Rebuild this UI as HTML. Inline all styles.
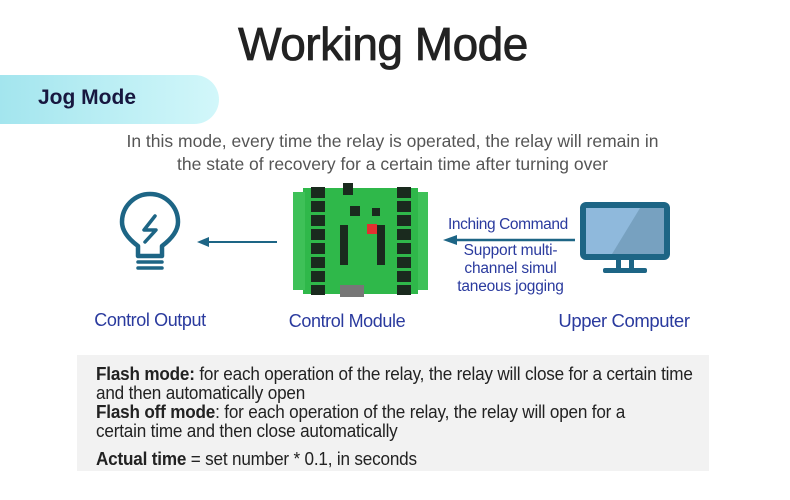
<!DOCTYPE html>
<html><head><meta charset="utf-8"><style>
body{margin:0;width:790px;height:500px;background:#fff;position:relative;overflow:hidden;font-family:"Liberation Sans",sans-serif}
.a{position:absolute;white-space:nowrap}
.lbl{color:#2a3a9e;font-size:18px;transform:translateX(-50%);letter-spacing:-0.4px}
.nar{font-size:18.5px;color:#222;letter-spacing:-0.2px;transform-origin:0 0;transform:scaleX(0.925)}
</style></head><body>
<div class="a" style="left:0;width:766px;top:17px;text-align:center;font-size:46px;color:#222;letter-spacing:-0.5px;-webkit-text-stroke:0.8px #222">Working Mode</div>
<div class="a" style="left:0;top:75px;width:219px;height:49px;border-radius:0 25px 25px 0;background:linear-gradient(90deg,#a3e5ee,#d2f7fa)"></div>
<div class="a" style="left:38px;top:86px;font-size:21px;font-weight:bold;color:#17173f">Jog Mode</div>
<div class="a" style="left:0;width:785px;top:130px;text-align:center;font-size:17.5px;line-height:23px;color:#555">In this mode, every time the relay is operated, the relay will remain in<br>the state of recovery for a certain time after turning over</div>
<svg class="a" style="left:0;top:0" width="790" height="340">
 <g stroke="#1d6585" stroke-width="5" fill="none" stroke-linecap="round" stroke-linejoin="round">
  <path d="M138 256 L138 246 Q122 234 122 222 A28 28 0 1 1 178 222 Q178 234 162 246 L162 256 Z" stroke-width="4.5"/>
  <path d="M155 216 L144 230 L156 230 L145 242" stroke-width="3.5"/>
  <path d="M138 262 H162 M138 268 H162" stroke-width="3.5"/>
 </g>
 <line x1="277" y1="242" x2="205" y2="242" stroke="#1d6585" stroke-width="2"/>
 <path d="M197 242 L209 237 L209 247Z" fill="#1d6585"/>
 <line x1="575" y1="240" x2="450" y2="240" stroke="#1d6585" stroke-width="2.5"/>
 <path d="M443 240 L457 235 L457 245Z" fill="#1d6585"/>
 <rect x="580" y="202" width="90" height="58" rx="6" fill="#1d6585"/>
 <rect x="586" y="208" width="78" height="46" fill="#8fb9dc"/>
 <path d="M640 208 L664 208 L664 254 L612 254Z" fill="#77a1c0"/>
 <rect x="616" y="260" width="5" height="10" fill="#1d6585"/><rect x="629" y="260" width="5" height="10" fill="#1d6585"/>
 <rect x="603" y="268" width="44" height="5" rx="2" fill="#1d6585"/>
 <rect x="303" y="188" width="115" height="106" fill="#2fb84a"/>
 <rect x="293" y="192" width="12" height="98" fill="#3ec158"/>
 <rect x="418" y="192" width="10" height="98" fill="#3ec158"/>
 <g fill="#1a2a1e">
  <rect x="311" y="187" width="14" height="11"/><rect x="311" y="201" width="14" height="11"/><rect x="311" y="215" width="14" height="11"/><rect x="311" y="229" width="14" height="11"/><rect x="311" y="243" width="14" height="11"/><rect x="311" y="257" width="14" height="11"/><rect x="311" y="271" width="14" height="11"/><rect x="311" y="285" width="14" height="10"/>
  <rect x="397" y="187" width="14" height="11"/><rect x="397" y="201" width="14" height="11"/><rect x="397" y="215" width="14" height="11"/><rect x="397" y="229" width="14" height="11"/><rect x="397" y="243" width="14" height="11"/><rect x="397" y="257" width="14" height="11"/><rect x="397" y="271" width="14" height="11"/><rect x="397" y="285" width="14" height="10"/>
  <rect x="343" y="183" width="10" height="12"/><rect x="350" y="206" width="10" height="10"/><rect x="372" y="208" width="8" height="8"/>
  <rect x="340" y="225" width="8" height="40"/><rect x="377" y="225" width="8" height="40"/>
 </g>
 <rect x="367" y="224" width="10" height="10" fill="#e23030"/>
 <rect x="340" y="285" width="24" height="12" fill="#777"/>
</svg>
<div class="a" style="left:448px;top:216px;font-size:15.5px;color:#2a3a9e;letter-spacing:-0.4px">Inching Command</div>
<div class="a" style="left:448px;top:242px;width:125px;text-align:center;font-size:15.5px;line-height:18px;color:#2a3a9e;letter-spacing:-0.2px">Support multi-<br>channel simul<br>taneous jogging</div>
<div class="a lbl" style="left:150px;top:310px">Control Output</div>
<div class="a lbl" style="left:347px;top:311px">Control Module</div>
<div class="a lbl" style="left:624px;top:310px;font-size:18.5px">Upper Computer</div>
<div class="a" style="left:77px;top:355px;width:632px;height:116px;background:#f2f2f2"></div>
<div class="a nar" style="left:96px;top:364px;line-height:19px"><b>Flash mode:</b> for each operation of the relay, the relay will close for a certain time<br>and then automatically open<br><b>Flash off mode</b>: for each operation of the relay, the relay will open for a<br>certain time and then close automatically</div>
<div class="a nar" style="left:96px;top:448px"><b>Actual time</b> = set number * 0.1, in seconds</div>
</body></html>
